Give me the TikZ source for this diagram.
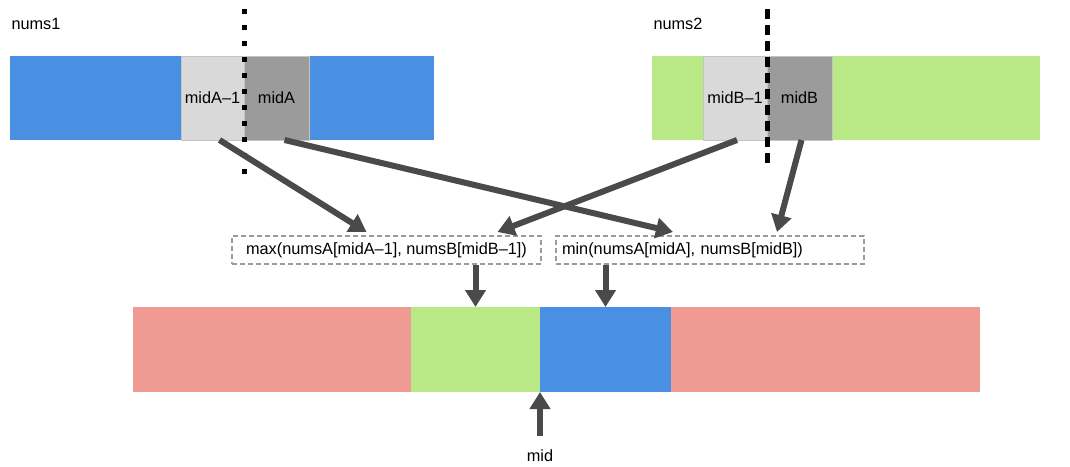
\documentclass[tikz,border=0pt]{standalone}
\usepackage{fontspec}
\setmainfont{Liberation Sans}
\usetikzlibrary{arrows.meta}

\definecolor{numsblue}{HTML}{4A90E2}
\definecolor{numsgreen}{HTML}{B8E986}
\definecolor{numspink}{HTML}{F09A94}
\definecolor{lightcell}{HTML}{D9D9D9}
\definecolor{darkcell}{HTML}{9B9B9B}
\definecolor{cellline}{HTML}{C4C4C4}
\definecolor{arrowgray}{HTML}{4A4A4A}

\tikzstyle{bar} = [rectangle,anchor=north west,inner sep=0pt,outer sep=0pt,minimum height=84pt]
\tikzstyle{cell} = [bar,draw=cellline,line width=1pt]
\tikzstyle{calcbox} = [rectangle,draw=darkcell,dashed,line width=2pt,dash pattern=on 5pt off 3pt,minimum height=28pt,inner sep=0pt]
\tikzstyle{arr} = [draw=arrowgray,line width=6pt,-{Triangle[width=20pt,length=17pt]},arrowgray]
\tikzstyle{sepdots} = [line width=5pt,dash pattern=on 5pt off 11pt]
\tikzstyle{sepdash} = [line width=5pt,dash pattern=on 10pt off 6pt]

\begin{document}
\begin{tikzpicture}[x=1pt,y=-1pt,font=\fontsize{16.3}{19}\selectfont]
		\useasboundingbox[fill=white] (0,0) rectangle (1070,466);
		% nums1
		\node[anchor=west] (lab1) at (8,24) {nums1};
		\node[bar,fill=numsblue,minimum width=424pt] (bar1) at (10,56) {};
		\node[cell,fill=lightcell,minimum width=63pt] (a1) at (181,56) {midA--1};
		\node[cell,fill=darkcell,minimum width=65pt] (a2) at (244,56) {midA};
		\coordinate (sa1) at (244,9);
		\coordinate (sa2) at (244,178);
		\draw[sepdots] (sa1) -- (sa2);
		% nums2
		\node[anchor=west] (lab2) at (650,24) {nums2};
		\node[bar,fill=numsgreen,minimum width=388pt] (bar2) at (652,56) {};
		\node[cell,fill=lightcell,minimum width=64pt] (b1) at (703,56) {midB--1};
		\node[cell,fill=darkcell,minimum width=65pt] (b2) at (767,56) {midB};
		\coordinate (sb1) at (767,9);
		\coordinate (sb2) at (767,169);
		\draw[sepdash] (sb1) -- (sb2);
		% max / min
		\node[calcbox,minimum width=309pt] (maxbox) at (386.5,250) {max(numsA[midA--1], numsB[midB--1])};
		\node[calcbox,minimum width=308pt,text width=296pt,align=left] (minbox) at (710,250) {min(numsA[midA], numsB[midB])};
		\draw[arr] ([xshift=7pt]a1.south) -- ([xshift=-20pt,yshift=3pt]maxbox.north);
		\draw[arr] ([xshift=8pt]a2.south) -- ([xshift=-37pt,yshift=3pt]minbox.north);
		\draw[arr] ([xshift=2pt]b1.south) -- ([xshift=111pt,yshift=3pt]maxbox.north);
		\draw[arr] ([xshift=2pt]b2.south) -- ([xshift=67pt,yshift=3pt]minbox.north);
		% merged
		\node[bar,fill=numspink,minimum width=278pt,minimum height=85pt] (c1) at (133,307) {};
		\node[bar,fill=numsgreen,minimum width=129pt,minimum height=85pt] (c2) at (411,307) {};
		\node[bar,fill=numsblue,minimum width=131pt,minimum height=85pt] (c3) at (540,307) {};
		\node[bar,fill=numspink,minimum width=309pt,minimum height=85pt] (c4) at (671,307) {};
		\draw[arr] (maxbox.south -| c2.north) -- (c2.north);
		\draw[arr] (minbox.south -| c3.north) -- (c3.north);
		\node (midlab) at (540,456) {mid};
		\coordinate (midtail) at (540,436);
		\draw[arr] (midtail) -- (c2.south east);
\end{tikzpicture}
\end{document}
